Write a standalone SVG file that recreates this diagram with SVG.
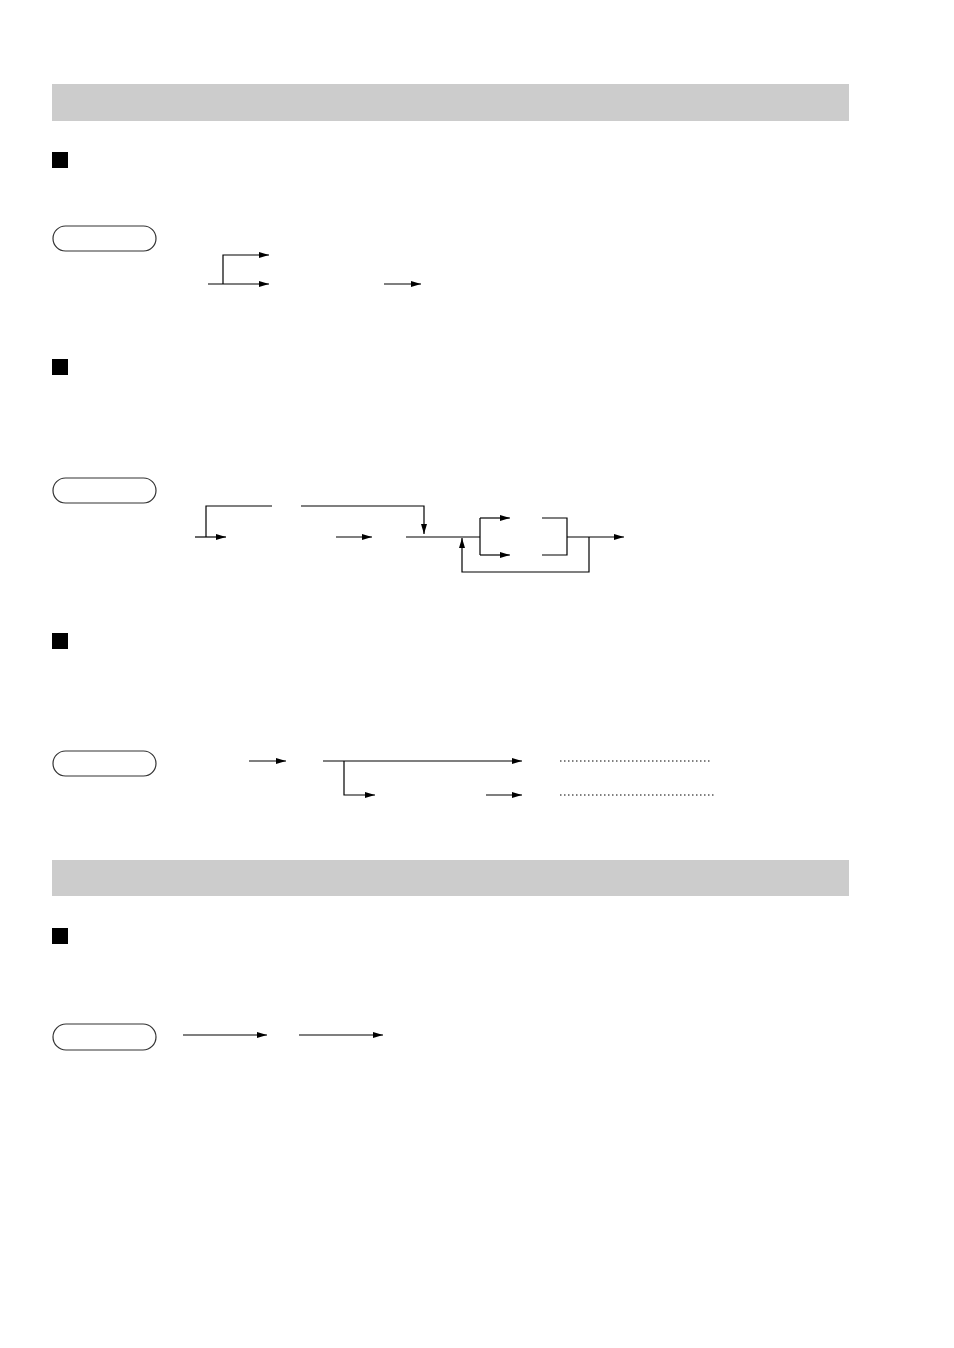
<svg xmlns="http://www.w3.org/2000/svg" width="954" height="1348" viewBox="0 0 954 1348">
<style>
.bar{fill:#cccccc}
.sq{fill:#000}
.pill{fill:none;stroke:#333;stroke-width:1.2}
.ln{fill:none;stroke:#000;stroke-width:1.2}
.dot{fill:none;stroke:#000;stroke-width:1;stroke-dasharray:1.5 2.5}
</style>
<defs>
<marker id="ah" viewBox="0 0 10 6" refX="10" refY="3" markerWidth="10" markerHeight="6" markerUnits="userSpaceOnUse" orient="auto">
<path d="M0,0 L10,3 L0,6 Z" fill="#000"/>
</marker>
</defs>
<rect width="954" height="1348" fill="#fff"/>
<g id="header1"><rect class="bar" x="52" y="84" width="797" height="37"/></g>
<g id="header2"><rect class="bar" x="52" y="860" width="797" height="36"/></g>
<g id="bullet1"><rect class="sq" x="52" y="152" width="16" height="16"/></g>
<g id="bullet2"><rect class="sq" x="52" y="359" width="16" height="16"/></g>
<g id="bullet3"><rect class="sq" x="52" y="633" width="16" height="16"/></g>
<g id="bullet4"><rect class="sq" x="52" y="928" width="16" height="16"/></g>
<g id="pill1"><rect class="pill" x="53" y="226" width="103" height="25" rx="12.5"/></g>
<g id="pill2"><rect class="pill" x="53" y="478" width="103" height="25" rx="12.5"/></g>
<g id="pill3"><rect class="pill" x="53" y="751" width="103" height="25" rx="12.5"/></g>
<g id="pill4"><rect class="pill" x="53" y="1024" width="103" height="26" rx="13"/></g>
<g id="connectors">
<!-- section 1 -->
<path class="ln" d="M208,284 H269" marker-end="url(#ah)"/>
<path class="ln" d="M223,284 V255 H269" marker-end="url(#ah)"/>
<path class="ln" d="M384,284 H421" marker-end="url(#ah)"/>
<!-- section 2 -->
<path class="ln" d="M195,537 H226" marker-end="url(#ah)"/>
<path class="ln" d="M206,537 V506 H272"/>
<path class="ln" d="M301,506 H424 V534" marker-end="url(#ah)"/>
<path class="ln" d="M336,537 H372" marker-end="url(#ah)"/>
<path class="ln" d="M406,537 H480"/>
<path class="ln" d="M480,518 V555"/>
<path class="ln" d="M480,518 H510" marker-end="url(#ah)"/>
<path class="ln" d="M480,555 H510" marker-end="url(#ah)"/>
<path class="ln" d="M542,518 H567 V555 H542"/>
<path class="ln" d="M567,537 H624" marker-end="url(#ah)"/>
<path class="ln" d="M589,537 V572 H462 V538" marker-end="url(#ah)"/>
<!-- section 3 -->
<path class="ln" d="M249,761 H286" marker-end="url(#ah)"/>
<path class="ln" d="M323,761 H522" marker-end="url(#ah)"/>
<path class="ln" d="M344,761 V795 H375" marker-end="url(#ah)"/>
<path class="ln" d="M486,795 H522" marker-end="url(#ah)"/>
<path class="dot" d="M560,761 H712"/>
<path class="dot" d="M560,795 H714"/>
<!-- section 4 -->
<path class="ln" d="M183,1035 H267" marker-end="url(#ah)"/>
<path class="ln" d="M299,1035 H383" marker-end="url(#ah)"/>
</g>
</svg>
